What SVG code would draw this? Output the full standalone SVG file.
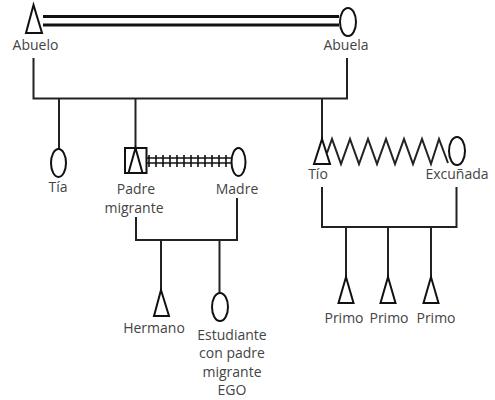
<svg xmlns="http://www.w3.org/2000/svg" width="495" height="400" viewBox="0 0 495 400">
<style>
.s{fill:none;stroke:#111;stroke-width:2}
.c{fill:none;stroke:#222;stroke-width:2;stroke-linejoin:miter}
.t{font-family:"Open Sans","Liberation Sans",sans-serif;font-size:14px;fill:#444;text-anchor:middle}
</style>
<rect width="495" height="400" fill="#fff"/>
<g id="connectors">
<line x1="43" y1="16.5" x2="339" y2="16.5" stroke="#111" stroke-width="3"/>
<line x1="43" y1="25" x2="339" y2="25" stroke="#111" stroke-width="3"/>
<polyline class="c" points="33.5,58 33.5,98.5 347,98.5 347,58"/>
<line class="c" x1="59" y1="98.5" x2="59" y2="149"/>
<line class="c" x1="135.5" y1="98.5" x2="135.5" y2="148"/>
<line class="c" x1="322" y1="98.5" x2="322" y2="139"/>
<g id="ladder" stroke="#111" stroke-width="1.6">
<line x1="147" y1="158" x2="232" y2="158"/>
<line x1="147" y1="163" x2="232" y2="163"/>
<path d="M149,155v12M156,155v12M163,155v12M170,155v12M177,155v12M184,155v12M191,155v12M198,155v12M205,155v12M212,155v12M219,155v12M226,155v12"/>
</g>
<polyline class="c" points="327,153 332,139 341,164 350,139 359,164 368,139 377,164 386,139 395,164 404,139 413,164 422,139 431,164 439,139 448,163"/>
<polyline class="c" points="136,217 136,240 237,240 237,198"/>
<line class="c" x1="161" y1="240" x2="161" y2="290"/>
<line class="c" x1="219.5" y1="240" x2="219.5" y2="293"/>
<polyline class="c" points="322,187 322,227 456.5,227 456.5,187"/>
<line class="c" x1="346" y1="227" x2="346" y2="277"/>
<line class="c" x1="388" y1="227" x2="388" y2="277"/>
<line class="c" x1="431" y1="227" x2="431" y2="277"/>
</g>
<g id="abuelo"><polygon class="s" points="33.5,5 26,33 42,33"/><text class="t" x="35.5" y="50">Abuelo</text></g>
<g id="abuela"><ellipse class="s" cx="348" cy="22" rx="8" ry="14"/><text class="t" x="346" y="50">Abuela</text></g>
<g id="tia"><ellipse class="s" cx="58.5" cy="163" rx="7.5" ry="14"/><text class="t" x="58" y="192">Tía</text></g>
<g id="padre"><rect class="s" x="125" y="148" width="21.5" height="25"/><polygon class="s" points="135.5,148 128.5,173 142.5,173"/><text class="t" x="136" y="194">Padre</text><text class="t" x="134" y="213">migrante</text></g>
<g id="madre"><ellipse class="s" cx="238.5" cy="162" rx="7" ry="14"/><text class="t" x="237" y="194">Madre</text></g>
<g id="tio"><polygon class="s" points="322,139 314,164 330,164"/><text class="t" x="318" y="179">Tío</text></g>
<g id="excunada"><ellipse class="s" cx="457" cy="151" rx="8" ry="14"/><text class="t" x="457" y="179">Excuñada</text></g>
<g id="hermano"><polygon class="s" points="161,290 154,316 169,316"/><text class="t" x="154" y="333">Hermano</text></g>
<g id="ego"><ellipse class="s" cx="220" cy="307" rx="8" ry="14"/><text class="t" x="232" y="340">Estudiante</text><text class="t" x="232" y="358">con padre</text><text class="t" x="232" y="377">migrante</text><text class="t" x="232" y="395">EGO</text></g>
<g id="primo1"><polygon class="s" points="346,277 338.5,303 353.5,303"/><text class="t" x="344" y="323">Primo</text></g>
<g id="primo2"><polygon class="s" points="388,277 380.5,303 395.5,303"/><text class="t" x="389" y="323">Primo</text></g>
<g id="primo3"><polygon class="s" points="431,277 423.5,303 438.5,303"/><text class="t" x="436" y="323">Primo</text></g>
</svg>
